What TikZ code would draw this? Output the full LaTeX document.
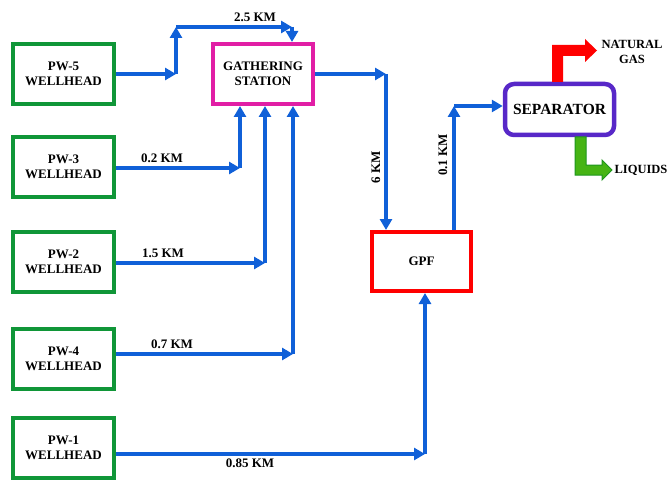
\documentclass[tikz,border=0pt]{standalone}
\usepackage{fontspec}
\setmainfont{Liberation Serif}
\usetikzlibrary{arrows.meta,calc}
\definecolor{wgreen}{RGB}{16,150,56}
\definecolor{pblue}{RGB}{16,96,216}
\definecolor{gmag}{RGB}{225,30,165}
\definecolor{sred}{RGB}{255,0,0}
\definecolor{spurple}{RGB}{88,40,200}
\definecolor{lgreen}{RGB}{70,180,20}
\definecolor{dgreen}{RGB}{30,150,30}
\tikzset{
  wellbox/.style={draw=wgreen, line width=4pt, minimum width=101pt, minimum height=60pt, align=center, inner sep=0pt, font=\bfseries\fontsize{13}{15}\selectfont},
  gsbox/.style={draw=gmag, line width=4pt, minimum width=100pt, minimum height=60pt, align=center, inner sep=0pt, font=\bfseries\fontsize{13}{15}\selectfont},
  gpfbox/.style={draw=sred, line width=4pt, minimum width=99pt, minimum height=59pt, align=center, inner sep=0pt, font=\bfseries\fontsize{13}{15}\selectfont},
  sepbox/.style={draw=spurple, line width=4.5pt, rounded corners=9pt, minimum width=109pt, minimum height=51pt, align=center, inner sep=0pt, font=\bfseries\fontsize{15.5}{17}\selectfont},
  pipe/.style={draw=pblue, line width=3.3pt, -{Triangle[length=11pt,width=12pt]}},
  lbl/.style={font=\bfseries\fontsize{13}{15}\selectfont, inner sep=0pt, align=center},
}
\begin{document}
\begin{tikzpicture}[x=1pt,y=-1pt]
\useasboundingbox (0,0) rectangle (668,481);
% boxes
\node[wellbox] (pw5) at (63.5,74) {PW-5\\WELLHEAD};
\node[wellbox] (pw3) at (63.5,167) {PW-3\\WELLHEAD};
\node[wellbox] (pw2) at (63.5,262) {PW-2\\WELLHEAD};
\node[wellbox] (pw4) at (63.5,359) {PW-4\\WELLHEAD};
\node[wellbox] (pw1) at (63.5,448) {PW-1\\WELLHEAD};
\node[gsbox] (gs) at (263,74) {GATHERING\\STATION};
\node[gpfbox] (gpf) at (421.5,261.5) {GPF};
\node[sepbox] (sep) at (559.5,109.5) {SEPARATOR};
% coordinates
\coordinate (c1) at (176,74);
\coordinate (c2) at (176,27);
\coordinate (c3) at (292,27);
\coordinate (k3) at (240,168);
\coordinate (k2) at (265,263);
\coordinate (k4) at (293,354);
\coordinate (k1) at (425,454);
\coordinate (c6) at (386,74);
\coordinate (c7) at (454,106);
% PW-5
\draw[pipe] (pw5.east |- c1) -- (c1);
\draw[pipe] (c1) -- (c2);
\draw[pipe] (c2) -- (c3);
\draw[pipe] (c3) -- (gs.north -| c3);
% PW-3, PW-2, PW-4
\draw[pipe] (pw3.east |- k3) -- (k3);
\draw[pipe] (k3) -- (gs.south -| k3);
\draw[pipe] (pw2.east |- k2) -- (k2);
\draw[pipe] (k2) -- (gs.south -| k2);
\draw[pipe] (pw4.east |- k4) -- (k4);
\draw[pipe] (k4) -- (gs.south -| k4);
% PW-1
\draw[pipe] (pw1.east |- k1) -- (k1);
\draw[pipe] (k1) -- (gpf.south -| k1);
% GS -> GPF
\draw[pipe] (gs.east |- c6) -- (c6);
\draw[pipe] (c6) -- (gpf.north -| c6);
% GPF -> SEP
\draw[pipe] (gpf.north -| c7) -- (c7);
\draw[pipe] (c7) -- (sep.west |- c7);
% labels
\node[lbl] (l25) at (255,17) {2.5 KM};
\node[lbl] (l02) at (162,158) {0.2 KM};
\node[lbl] (l15) at (163,253) {1.5 KM};
\node[lbl] (l07) at (172,344) {0.7 KM};
\node[lbl] (l085) at (250,463) {0.85 KM};
\node[lbl, rotate=90] (l6) at (376,167) {6 KM};
\node[lbl, rotate=90] (l01) at (443,155) {0.1 KM};
% outlet arrows
\fill[sred] (552,82) -- (552,45) -- (585,45) -- (585,39) -- (597,50.5) -- (585,62) -- (585,56) -- (563,56) -- (563,82) -- cycle;
\filldraw[fill=lgreen, draw=dgreen, line width=1pt] (575,137) -- (575,175) -- (602,175) -- (602,180) -- (612,170) -- (602,160) -- (602,165) -- (586,165) -- (586,137) -- cycle;
\node[lbl, font=\bfseries\fontsize{12.5}{15}\selectfont] (ng) at (632,52) {NATURAL\\GAS};
\node[lbl, font=\bfseries\fontsize{12.5}{15}\selectfont] (liq) at (641,170) {LIQUIDS};
\end{tikzpicture}
\end{document}
